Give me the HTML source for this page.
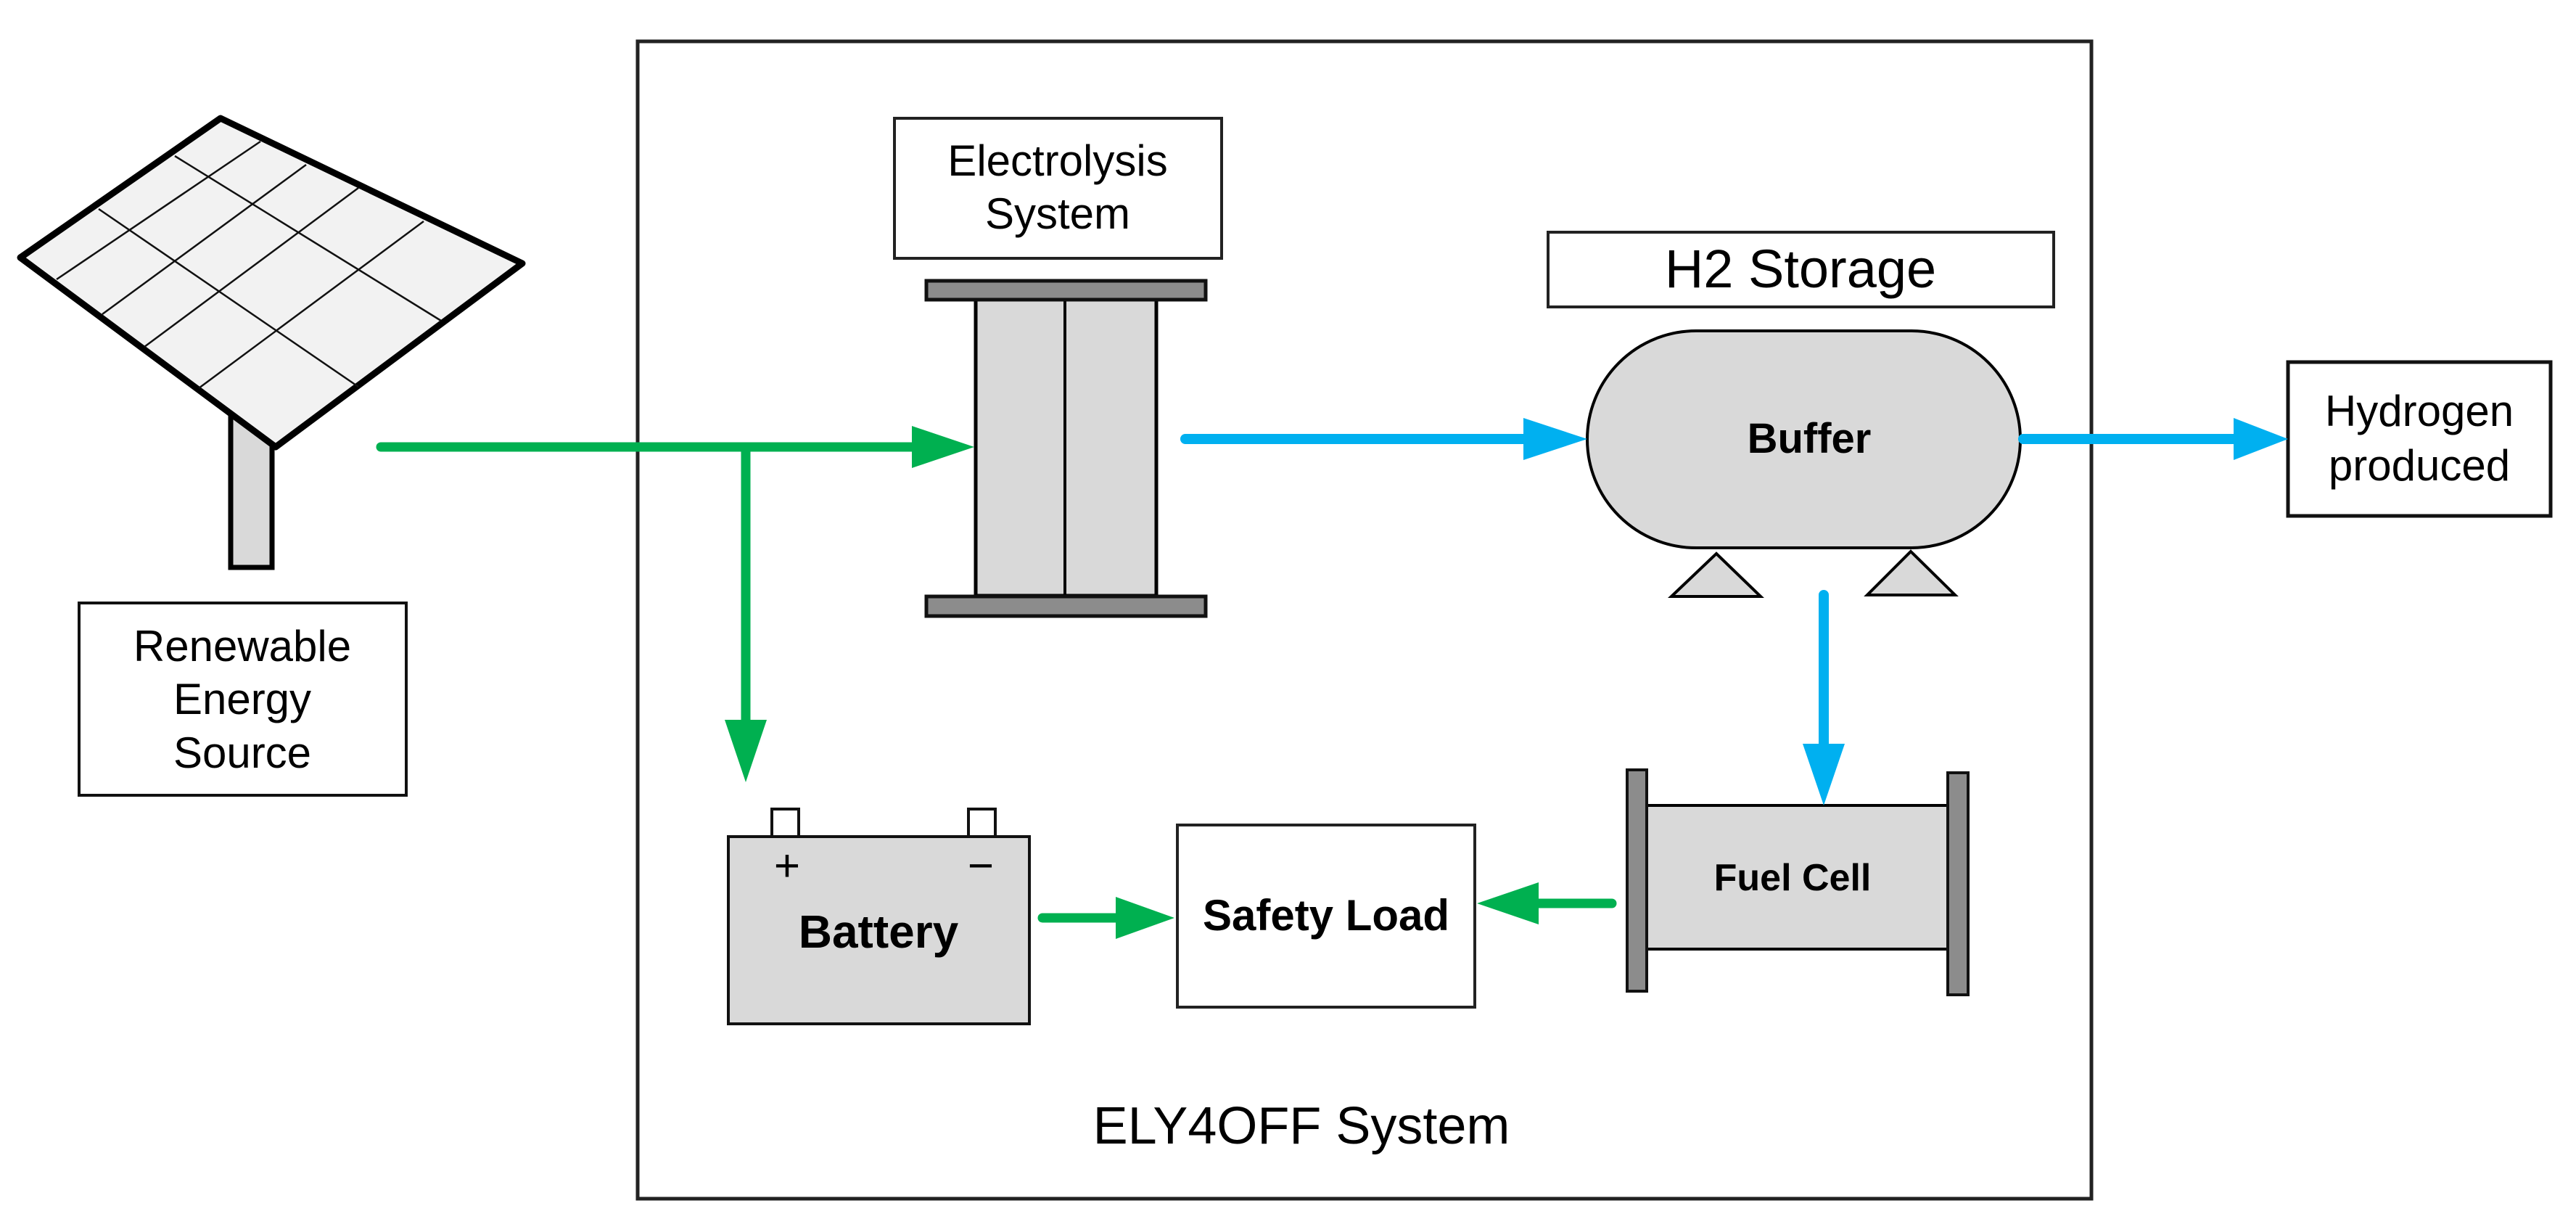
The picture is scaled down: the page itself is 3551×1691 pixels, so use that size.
<!DOCTYPE html>
<html><head><meta charset="utf-8"><style>html,body{margin:0;padding:0;background:#fff}svg{display:block}</style></head>
<body>
<svg width="3551" height="1691" viewBox="0 0 3551 1691" xmlns="http://www.w3.org/2000/svg" font-family="Liberation Sans, Arial, sans-serif">
<rect width="3551" height="1691" fill="#fff"/>
<!-- main system box -->
<rect x="879" y="57" width="2004" height="1595" fill="none" stroke="#222" stroke-width="5"/>
<!-- solar panel -->
<rect x="318" y="570" width="57" height="212" fill="#d9d9d9" stroke="#000" stroke-width="7"/>
<polygon points="28,355 304,163 720,363 380,616" fill="#f2f2f2" stroke="#000" stroke-width="9" stroke-linejoin="round"/>
<g stroke="#111" stroke-width="2.5">
<line x1="78" y1="385" x2="359" y2="195"/>
<line x1="141" y1="433" x2="422" y2="227"/>
<line x1="199" y1="478" x2="494" y2="259"/>
<line x1="274" y1="535" x2="584" y2="305"/>
<line x1="136" y1="288" x2="494" y2="533"/>
<line x1="241" y1="215" x2="608" y2="442"/>
</g>
<!-- renewable box -->
<rect x="109" y="831" width="451" height="265" fill="#fff" stroke="#111" stroke-width="4"/>
<g font-size="60" text-anchor="middle" fill="#000">
<text x="334" y="911">Renewable</text>
<text x="334" y="984">Energy</text>
<text x="334" y="1058">Source</text>
</g>
<!-- electrolysis label -->
<rect x="1233" y="163" width="451" height="193" fill="#fff" stroke="#222" stroke-width="4"/>
<g font-size="60" text-anchor="middle" fill="#000">
<text x="1458" y="242">Electrolysis</text>
<text x="1458" y="315">System</text>
</g>
<!-- electrolyser -->
<rect x="1345" y="411" width="249" height="410" fill="#d9d9d9" stroke="#000" stroke-width="5"/>
<line x1="1468" y1="411" x2="1468" y2="821" stroke="#000" stroke-width="4"/>
<rect x="1277" y="387" width="385" height="26" fill="#8c8c8c" stroke="#111" stroke-width="5"/>
<rect x="1277" y="822" width="385" height="27" fill="#8c8c8c" stroke="#111" stroke-width="5"/>
<!-- H2 storage -->
<rect x="2134" y="320" width="697" height="103" fill="#fff" stroke="#222" stroke-width="4"/>
<text x="2482" y="396" font-size="74" text-anchor="middle">H2 Storage</text>
<rect x="2188" y="456" width="597" height="299" rx="150" ry="150" fill="#d9d9d9" stroke="#000" stroke-width="4"/>
<text x="2494" y="624" font-size="58" font-weight="bold" text-anchor="middle">Buffer</text>
<polygon points="2366,763 2427,822 2304,822" fill="#d9d9d9" stroke="#000" stroke-width="4"/>
<polygon points="2634,760 2695,820 2574,820" fill="#d9d9d9" stroke="#000" stroke-width="4"/>
<!-- hydrogen produced -->
<rect x="3154" y="499" width="362" height="212" fill="#fff" stroke="#111" stroke-width="5"/>
<g font-size="60" text-anchor="middle">
<text x="3335" y="587">Hydrogen</text>
<text x="3335" y="662">produced</text>
</g>
<!-- battery -->
<rect x="1064" y="1115" width="37" height="38" fill="#fff" stroke="#111" stroke-width="4"/>
<rect x="1335" y="1115" width="37" height="38" fill="#fff" stroke="#111" stroke-width="4"/>
<rect x="1004" y="1153" width="415" height="258" fill="#d9d9d9" stroke="#111" stroke-width="4"/>
<text x="1085" y="1214" font-size="62" text-anchor="middle">+</text>
<text x="1352" y="1214" font-size="62" text-anchor="middle">−</text>
<text x="1211" y="1306" font-size="64" font-weight="bold" text-anchor="middle">Battery</text>
<!-- safety load -->
<rect x="1623" y="1137" width="410" height="251" fill="#fff" stroke="#222" stroke-width="4"/>
<text x="1828" y="1282" font-size="60" font-weight="bold" text-anchor="middle">Safety Load</text>
<!-- fuel cell -->
<rect x="2270" y="1110" width="415" height="198" fill="#d9d9d9" stroke="#000" stroke-width="4"/>
<rect x="2243" y="1061" width="27" height="305" fill="#8c8c8c" stroke="#111" stroke-width="4"/>
<rect x="2685" y="1065" width="28" height="306" fill="#8c8c8c" stroke="#111" stroke-width="4"/>
<text x="2471" y="1227" font-size="52" font-weight="bold" text-anchor="middle">Fuel Cell</text>
<!-- system label -->
<text x="1794" y="1576" font-size="72" text-anchor="middle">ELY4OFF System</text>
<!-- green connectors -->
<g stroke="#00b050" stroke-width="13" stroke-linecap="round" fill="none">
<line x1="525" y1="616" x2="1262" y2="616"/>
<line x1="1028" y1="616" x2="1028" y2="998"/>
<line x1="1437" y1="1265" x2="1542" y2="1265"/>
<line x1="2222" y1="1245" x2="2116" y2="1245"/>
</g>
<g fill="#00b050">
<polygon points="1257,587 1343,616 1257,645"/>
<polygon points="999,992 1057,992 1028,1078"/>
<polygon points="1538,1236 1619,1265 1538,1294"/>
<polygon points="2121,1216 2036,1245 2121,1274"/>
</g>
<!-- blue connectors -->
<g stroke="#00b0f0" stroke-width="14" stroke-linecap="round" fill="none">
<line x1="1634" y1="605" x2="2105" y2="605"/>
<line x1="2789" y1="605" x2="3084" y2="605"/>
<line x1="2514" y1="820" x2="2514" y2="1030"/>
</g>
<g fill="#00b0f0">
<polygon points="2100,576 2188,605 2100,634"/>
<polygon points="3079,576 3154,605 3079,634"/>
<polygon points="2485,1025 2543,1025 2514,1110"/>
</g>
</svg>
</body></html>
